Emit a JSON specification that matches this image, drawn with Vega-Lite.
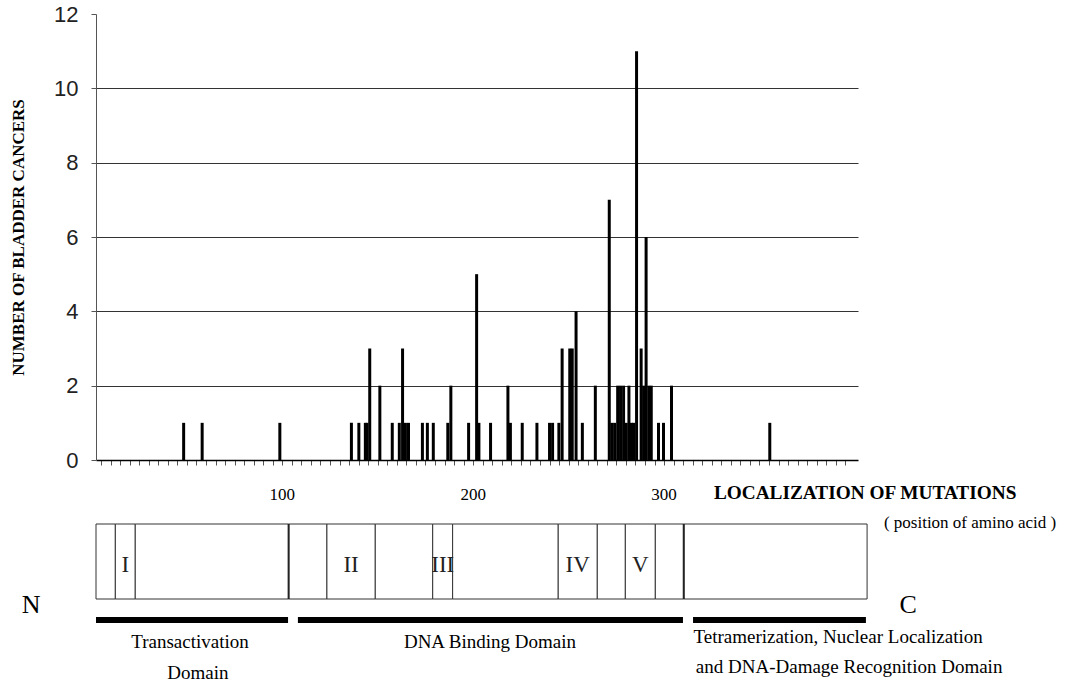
{
  "$schema": "https://vega.github.io/schema/vega-lite/v6.json",
  "background": "white",
  "padding": {"left": 9, "top": 3, "right": 4, "bottom": 4},
  "config": {"view": {"stroke": null}, "font": "Liberation Serif"},
  "bounds": "flush",
  "spacing": 20,
  "datasets": {
    "mutations": [
      {"codon": 43.3, "cancers": 1}, {"codon": 53.0, "cancers": 1}, {"codon": 93.7, "cancers": 1},
      {"codon": 131.2, "cancers": 1}, {"codon": 135.1, "cancers": 1}, {"codon": 138.5, "cancers": 1},
      {"codon": 139.4, "cancers": 1}, {"codon": 140.8, "cancers": 3}, {"codon": 146.1, "cancers": 2},
      {"codon": 152.6, "cancers": 1}, {"codon": 156.3, "cancers": 1}, {"codon": 158.0, "cancers": 3},
      {"codon": 159.5, "cancers": 1}, {"codon": 161.1, "cancers": 1}, {"codon": 168.4, "cancers": 1},
      {"codon": 171.0, "cancers": 1}, {"codon": 174.1, "cancers": 1}, {"codon": 181.7, "cancers": 1},
      {"codon": 183.3, "cancers": 2}, {"codon": 192.6, "cancers": 1}, {"codon": 196.8, "cancers": 5},
      {"codon": 198.0, "cancers": 1}, {"codon": 204.1, "cancers": 1}, {"codon": 213.2, "cancers": 2},
      {"codon": 214.5, "cancers": 1}, {"codon": 220.7, "cancers": 1}, {"codon": 228.4, "cancers": 1},
      {"codon": 235.0, "cancers": 1}, {"codon": 236.6, "cancers": 1}, {"codon": 239.9, "cancers": 1},
      {"codon": 241.6, "cancers": 3}, {"codon": 245.6, "cancers": 3}, {"codon": 246.9, "cancers": 3},
      {"codon": 248.9, "cancers": 4}, {"codon": 252.2, "cancers": 1}, {"codon": 259.0, "cancers": 2},
      {"codon": 266.3, "cancers": 7}, {"codon": 267.6, "cancers": 1}, {"codon": 269.1, "cancers": 1},
      {"codon": 270.7, "cancers": 2}, {"codon": 272.2, "cancers": 2}, {"codon": 273.8, "cancers": 2},
      {"codon": 275.2, "cancers": 1}, {"codon": 276.6, "cancers": 2}, {"codon": 277.9, "cancers": 1},
      {"codon": 279.0, "cancers": 1}, {"codon": 280.6, "cancers": 11}, {"codon": 283.0, "cancers": 3},
      {"codon": 284.3, "cancers": 2}, {"codon": 285.6, "cancers": 6}, {"codon": 287.0, "cancers": 2},
      {"codon": 288.3, "cancers": 2}, {"codon": 292.1, "cancers": 1}, {"codon": 294.7, "cancers": 1},
      {"codon": 298.9, "cancers": 2}, {"codon": 350.4, "cancers": 1}
    ],
    "segments": [
      {"start": 0, "end": 10.0}, {"start": 10.0, "end": 20.3}, {"start": 20.3, "end": 99.6},
      {"start": 99.6, "end": 119.4}, {"start": 119.4, "end": 144.4}, {"start": 144.4, "end": 174.1},
      {"start": 174.1, "end": 184.4}, {"start": 184.4, "end": 239.0}, {"start": 239.0, "end": 259.2},
      {"start": 259.2, "end": 273.7}, {"start": 273.7, "end": 289.2}, {"start": 289.2, "end": 303.9},
      {"start": 303.9, "end": 398.7}
    ],
    "boundaries": [{"codon": 99.6}, {"codon": 303.9}],
    "numerals": [
      {"numeral": "I", "codon": 15.1}, {"numeral": "II", "codon": 131.9}, {"numeral": "III", "codon": 179.3},
      {"numeral": "IV", "codon": 249.1}, {"numeral": "V", "codon": 281.4}
    ],
    "domains": [
      {"domain": "Transactivation Domain", "start": 0, "end": 99.3},
      {"domain": "DNA Binding Domain", "start": 104.4, "end": 303.5},
      {"domain": "Tetramerization, Nuclear Localization and DNA-Damage Recognition Domain", "start": 308.7, "end": 398.1}
    ],
    "domainText": [
      {"text": "Transactivation", "codon": 48.6, "level": 3.8},
      {"text": "Domain", "codon": 52.7, "level": 0.7},
      {"text": "DNA Binding Domain", "codon": 203.7, "level": 3.8},
      {"text": "Tetramerization, Nuclear Localization", "codon": 383.7, "level": 4.3},
      {"text": "and DNA-Damage Recognition Domain", "codon": 389.4, "level": 1.3}
    ],
    "ends": [
      {"text": "N", "codon": -33.6, "level": 7.5},
      {"text": "C", "codon": 419.9, "level": 7.5}
    ],
    "axisTitle": [
      {"text": "LOCALIZATION OF MUTATIONS", "codon": 319.5, "level": 18.7}
    ],
    "axisSubtitle": [
      {"text": "( position of amino acid )", "codon": 407.4, "level": 15.7}
    ]
  },
  "vconcat": [
    {
      "width": 762,
      "height": 446,
      "data": {"name": "mutations"},
      "mark": {"type": "bar", "orient": "vertical", "width": 3, "color": "black"},
      "encoding": {
        "x": {
          "field": "codon", "type": "quantitative",
          "scale": {"domain": [0, 394], "nice": false, "zero": false},
          "axis": {
            "title": null, "grid": false,
            "values": [0,5,10,15,20,25,30,35,40,45,50,55,60,65,70,75,80,85,90,95,100,105,110,115,120,125,130,135,140,145,150,155,160,165,170,175,180,185,190,195,200,205,210,215,220,225,230,235,240,245,250,255,260,265,270,275,280,285,290,295,300,305,310,315,320,325,330,335,340,345,350,355,360,365,370,375,380,385,390],
            "labelExpr": "datum.value % 100 === 0 && datum.value > 0 ? datum.label : ''",
            "labelOverlap": false, "labelFlush": false, "labelBound": false,
            "labelFont": "Liberation Serif", "labelFontSize": 17, "labelColor": "black",
            "labelPadding": 21, "labelOffset": -10,
            "domainColor": "black", "domainWidth": 1.5,
            "tickColor": "#555", "tickSize": 5, "tickWidth": 1
          }
        },
        "y": {
          "field": "cancers", "type": "quantitative",
          "scale": {"domain": [0, 12], "nice": false},
          "stack": null,
          "axis": {
            "values": [0, 2, 4, 6, 8, 10, 12],
            "title": "NUMBER OF BLADDER CANCERS",
            "titleFont": "Liberation Serif", "titleFontWeight": "bold", "titleFontSize": 17, "titleColor": "black",
            "titlePadding": 26,
            "labelFont": "Liberation Sans", "labelFontSize": 22, "labelColor": "#222", "labelPadding": 13,
            "tickSize": 5, "tickColor": "#555", "domainColor": "#555",
            "grid": true, "gridColor": "#333", "gridWidth": 1,
            "gridOpacity": {"condition": {"test": "datum.value === 0 || datum.value === 12", "value": 0}, "value": 1}
          }
        }
      }
    },
    {
      "width": 762,
      "height": 200,
      "layer": [
        {
          "data": {"name": "segments"},
          "mark": {"type": "rect", "fill": "white", "stroke": "#333", "strokeWidth": 1},
          "encoding": {
            "x": {"field": "start", "type": "quantitative", "scale": {"domain": [0, 394], "nice": false, "zero": false}, "axis": null},
            "x2": {"field": "end"},
            "y": {"datum": 8.1, "type": "quantitative", "scale": {"domain": [0, 20], "nice": false}, "axis": null},
            "y2": {"datum": 15.6}
          }
        },
        {
          "data": {"name": "boundaries"},
          "mark": {"type": "rule", "color": "#222", "strokeWidth": 2},
          "encoding": {
            "x": {"field": "codon", "type": "quantitative", "scale": {"domain": [0, 394], "nice": false, "zero": false}, "axis": null},
            "y": {"datum": 8.1, "type": "quantitative", "scale": {"domain": [0, 20], "nice": false}, "axis": null},
            "y2": {"datum": 15.6}
          }
        },
        {
          "data": {"name": "numerals"},
          "mark": {"type": "text", "font": "Liberation Serif", "fontSize": 23, "color": "#222", "baseline": "middle", "align": "center"},
          "encoding": {
            "x": {"field": "codon", "type": "quantitative", "scale": {"domain": [0, 394], "nice": false, "zero": false}, "axis": null},
            "y": {"datum": 11.5, "type": "quantitative", "scale": {"domain": [0, 20], "nice": false}, "axis": null},
            "text": {"field": "numeral"}
          }
        },
        {
          "data": {"name": "domains"},
          "mark": {"type": "rule", "color": "black", "strokeWidth": 6, "strokeCap": "butt"},
          "encoding": {
            "x": {"field": "start", "type": "quantitative", "scale": {"domain": [0, 394], "nice": false, "zero": false}, "axis": null},
            "x2": {"field": "end"},
            "y": {"datum": 6.0, "type": "quantitative", "scale": {"domain": [0, 20], "nice": false}, "axis": null}
          }
        },
        {
          "data": {"name": "domainText"},
          "mark": {"type": "text", "font": "Liberation Serif", "fontSize": 19, "color": "black", "baseline": "middle", "align": "center"},
          "encoding": {
            "x": {"field": "codon", "type": "quantitative", "scale": {"domain": [0, 394], "nice": false, "zero": false}, "axis": null},
            "y": {"field": "level", "type": "quantitative", "scale": {"domain": [0, 20], "nice": false}, "axis": null},
            "text": {"field": "text"}
          }
        },
        {
          "data": {"name": "ends"},
          "mark": {"type": "text", "font": "Liberation Serif", "fontSize": 26, "color": "black", "baseline": "middle", "align": "center"},
          "encoding": {
            "x": {"field": "codon", "type": "quantitative", "scale": {"domain": [0, 394], "nice": false, "zero": false}, "axis": null},
            "y": {"field": "level", "type": "quantitative", "scale": {"domain": [0, 20], "nice": false}, "axis": null},
            "text": {"field": "text"}
          }
        },
        {
          "data": {"name": "axisTitle"},
          "mark": {"type": "text", "font": "Liberation Serif", "fontWeight": "bold", "fontSize": 19.3, "color": "black", "baseline": "middle", "align": "left"},
          "encoding": {
            "x": {"field": "codon", "type": "quantitative", "scale": {"domain": [0, 394], "nice": false, "zero": false}, "axis": null},
            "y": {"field": "level", "type": "quantitative", "scale": {"domain": [0, 20], "nice": false}, "axis": null},
            "text": {"field": "text"}
          }
        },
        {
          "data": {"name": "axisSubtitle"},
          "mark": {"type": "text", "font": "Liberation Serif", "fontSize": 17, "color": "black", "baseline": "middle", "align": "left"},
          "encoding": {
            "x": {"field": "codon", "type": "quantitative", "scale": {"domain": [0, 394], "nice": false, "zero": false}, "axis": null},
            "y": {"field": "level", "type": "quantitative", "scale": {"domain": [0, 20], "nice": false}, "axis": null},
            "text": {"field": "text"}
          }
        }
      ]
    }
  ]
}
